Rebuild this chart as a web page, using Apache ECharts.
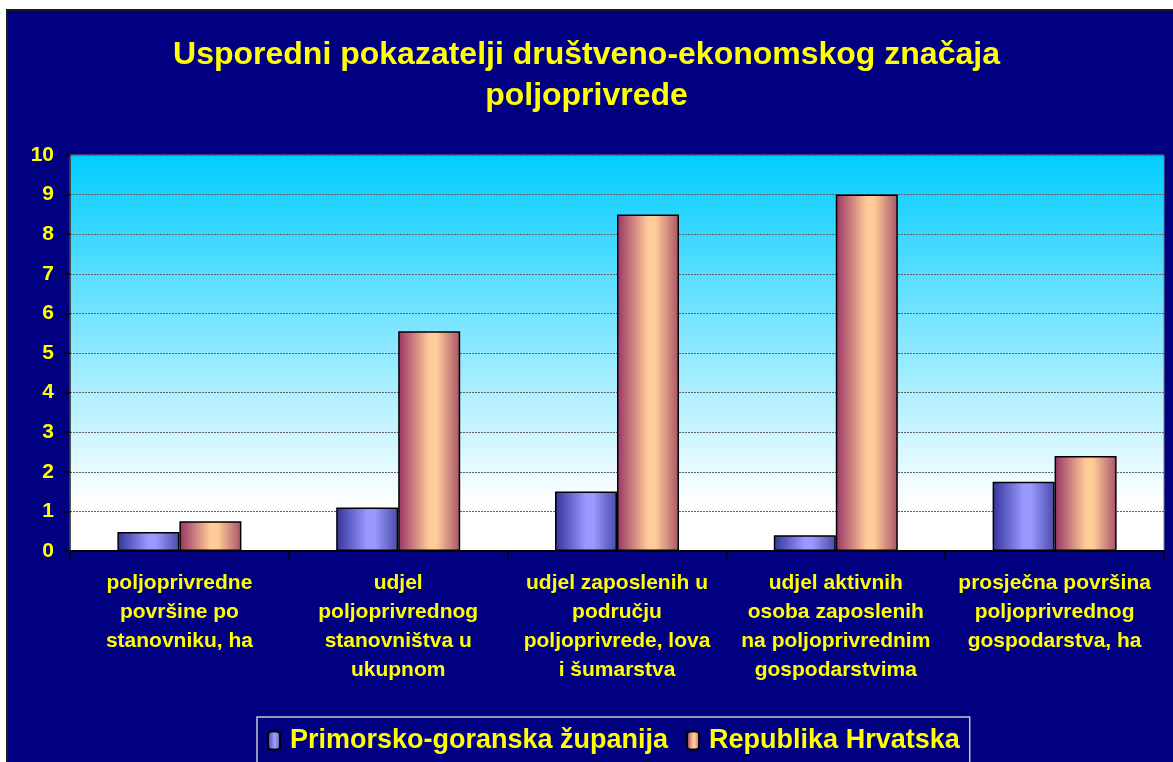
<!DOCTYPE html>
<html>
<head>
<meta charset="utf-8">
<script src="https://cdn.jsdelivr.net/npm/echarts@6/dist/echarts.min.js"></script>
<style>
html,body{margin:0;padding:0;background:#ffffff;}
#c{width:1173px;height:762px;}
</style>
</head>
<body>
<div id="c"></div>
<script>
var categories = [
  'poljoprivredne\npovršine po\nstanovniku, ha',
  'udjel\npoljoprivrednog\nstanovništva u\nukupnom',
  'udjel zaposlenih u\npodručju\npoljoprivrede, lova\ni šumarstva',
  'udjel aktivnih\nosoba zaposlenih\nna poljoprivrednim\ngospodarstvima',
  'prosječna površina\npoljoprivrednog\ngospodarstva, ha'
];
var seriesNames = ['Primorsko-goranska županija', 'Republika Hrvatska'];
var pgzValues = [0.48, 1.1, 1.5, 0.4, 1.75];
var rhValues = [0.75, 5.55, 8.5, 9.0, 2.4];
var yTicks = [0, 10, 1];

var FONT = '"Liberation Sans", Arial, sans-serif';
var chart = echarts.init(document.getElementById('c'), null, {renderer: 'canvas'});

var blueGrad = new echarts.graphic.LinearGradient(0, 0, 1, 0, [
  {offset: 0, color: '#333399'},
  {offset: 0.5, color: '#9999ff'},
  {offset: 0.62, color: '#9999ff'},
  {offset: 1, color: '#4a4aac'}
]);
var redGrad = new echarts.graphic.LinearGradient(0, 0, 1, 0, [
  {offset: 0, color: '#993366'},
  {offset: 0.5, color: '#ffcc99'},
  {offset: 0.62, color: '#ffcc99'},
  {offset: 1, color: '#a85366'}
]);

chart.setOption({
  backgroundColor: '#ffffff',
  animation: false,
  graphic: [{
    type: 'rect',
    z: -10,
    silent: true,
    shape: {x: 7, y: 10, width: 1180, height: 770},
    style: {fill: '#000080', stroke: '#1a1a1a', lineWidth: 2}
  }],
  title: {
    text: 'Usporedni pokazatelji društveno-ekonomskog značaja\npoljoprivrede',
    left: 'center',
    top: 30,
    textStyle: {
      color: '#ffff00',
      fontSize: 32,
      fontWeight: 'bold',
      fontFamily: FONT,
      lineHeight: 41,
      align: 'center'
    }
  },
  legend: {
    data: seriesNames,
    left: 257,
    top: 717,
    orient: 'horizontal',
    backgroundColor: '#000080',
    borderColor: '#c8c8c8',
    borderWidth: 1.5,
    padding: [10, 10, 30, 10],
    itemGap: 18,
    itemWidth: 12,
    itemHeight: 18,
    textStyle: {
      color: '#ffff00',
      fontSize: 27,
      fontWeight: 'bold',
      fontFamily: FONT,
      padding: [0, 0, 0, 5]
    }
  },
  grid: {
    left: 70,
    right: 9,
    top: 155,
    bottom: 211,
    show: true,
    borderColor: '#808080',
    borderWidth: 1,
    backgroundColor: new echarts.graphic.LinearGradient(0, 0, 0, 1, [
      {offset: 0, color: '#00ccff'},
      {offset: 0.88, color: '#ffffff'},
      {offset: 1, color: '#ffffff'}
    ])
  },
  xAxis: {
    type: 'category',
    data: categories,
    axisLine: {show: true, lineStyle: {color: '#000000', width: 2}},
    axisTick: {show: true, length: 8, lineStyle: {color: '#000000', width: 1.5}},
    axisLabel: {
      interval: 0,
      margin: 18,
      color: '#ffff00',
      fontSize: 21,
      fontWeight: 'bold',
      fontFamily: FONT,
      lineHeight: 29,
      align: 'center'
    }
  },
  yAxis: {
    type: 'value',
    min: yTicks[0],
    max: yTicks[1],
    interval: yTicks[2],
    axisLine: {show: true, lineStyle: {color: '#303030', width: 1.5}},
    axisTick: {show: true, inside: false, length: 6, lineStyle: {color: '#000000', width: 1.5}},
    splitLine: {show: true, lineStyle: {color: '#606060', type: [2, 1], width: 1}},
    axisLabel: {
      color: '#ffff00',
      fontSize: 21,
      fontWeight: 'bold',
      fontFamily: FONT,
      margin: 16
    }
  },
  series: [{
    name: seriesNames[0],
    type: 'bar',
    data: pgzValues,
    barWidth: 62,
    barGap: '0%',
    itemStyle: {color: blueGrad, borderColor: '#000000', borderWidth: 1.5}
  }, {
    name: seriesNames[1],
    type: 'bar',
    data: rhValues,
    barWidth: 62,
    barGap: '0%',
    itemStyle: {color: redGrad, borderColor: '#000000', borderWidth: 1.5}
  }]
});
</script>
</body>
</html>
